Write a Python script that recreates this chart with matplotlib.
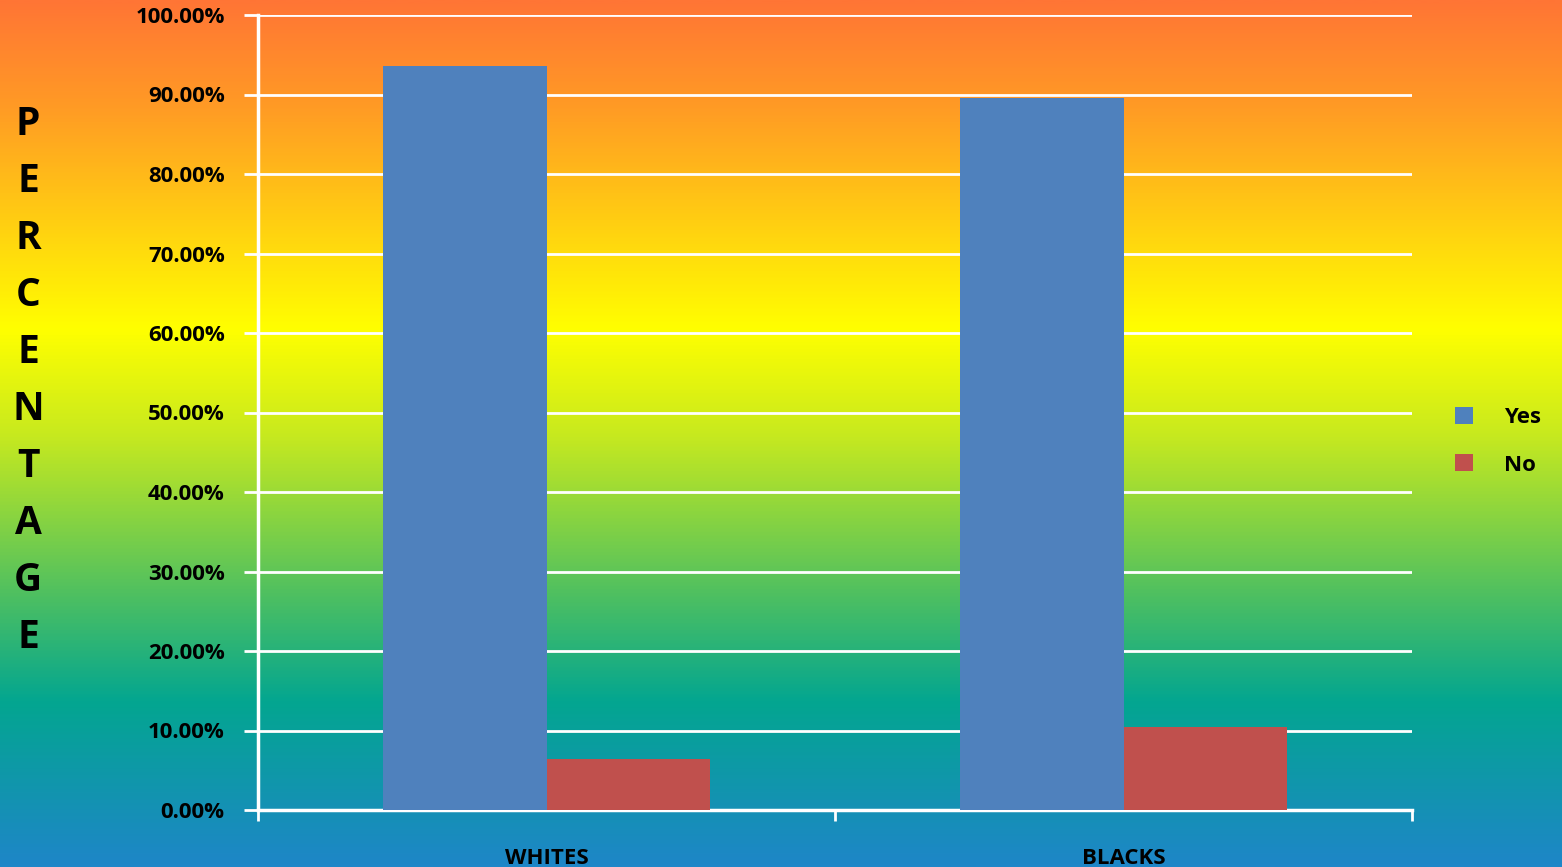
import matplotlib
matplotlib.use('Agg')
import matplotlib.pyplot as plt
import numpy as np
from matplotlib.colors import LinearSegmentedColormap
from matplotlib.ticker import PercentFormatter

# data
categories = ['WHITES', 'BLACKS']
yes_vals = [93.6, 89.6]
no_vals = [6.4, 10.4]

plt.rcParams['font.family'] = ['Open Sans', 'DejaVu Sans']

fig = plt.figure(figsize=(15.62, 8.67), dpi=100)

# gradient background
bg = fig.add_axes([0, 0, 1, 1])
cmap = LinearSegmentedColormap.from_list('bg', [
    (0.0, '#FF7535'), (0.12, '#FF9A25'), (0.38, '#FFFF00'),
    (0.50, '#C8EA1E'), (0.69, '#4CBF62'), (0.81, '#03A690'),
    (1.0, '#1E86C8')])
grad = np.linspace(0, 1, 512).reshape(-1, 1)
bg.imshow(grad, aspect='auto', cmap=cmap, extent=[0, 1, 0, 1], origin='upper')
bg.axis('off')

ax = fig.add_axes([258/1562, 57/867, (1412-258)/1562, (810-15)/867])
ax.set_facecolor('none')

x = np.arange(len(categories))
w = 0.284
ax.bar(x - w/2, yes_vals, width=w, color='#4F81BD', label='Yes', zorder=3)
ax.bar(x + w/2, no_vals, width=w, color='#C0504D', label='No', zorder=3)

ax.set_xlim(-0.5, 1.5)
ax.set_ylim(0, 100)
ax.set_yticks(np.arange(0, 101, 10))
ax.yaxis.set_major_formatter(PercentFormatter(decimals=2))
ax.grid(axis='y', color='white', linewidth=2, zorder=1)
ax.set_axisbelow(True)

for s in ['top', 'right']:
    ax.spines[s].set_visible(False)
for s in ['left', 'bottom']:
    ax.spines[s].set_color('white')
    ax.spines[s].set_linewidth(2.5)

ax.set_xticks([-0.5, 0.5, 1.5])
ax.set_xticklabels([])
ax.set_xticks(x, minor=True)
ax.set_xticklabels(categories, minor=True, fontsize=16, fontweight='bold')
ax.tick_params(axis='x', which='major', length=8, width=2, color='white')
ax.tick_params(axis='x', which='minor', length=0, pad=27)
ax.tick_params(axis='y', length=10, width=2, color='white', labelsize=16, pad=14)
for t in ax.get_yticklabels():
    t.set_fontweight('bold')

fig.text(28/1562, 1 - 381/867, '\n'.join('PERCENTAGE'), ha='center', va='center',
         fontsize=28, fontweight='bold', linespacing=1.6)

ax.legend(loc='center left', bbox_to_anchor=(1.02, 0.464), frameon=False,
          handlelength=0.8, handleheight=0.8, handletextpad=1.4,
          labelspacing=1.2, prop={'size': 16, 'weight': 'bold'})

fig.savefig('out.png', dpi=100)
